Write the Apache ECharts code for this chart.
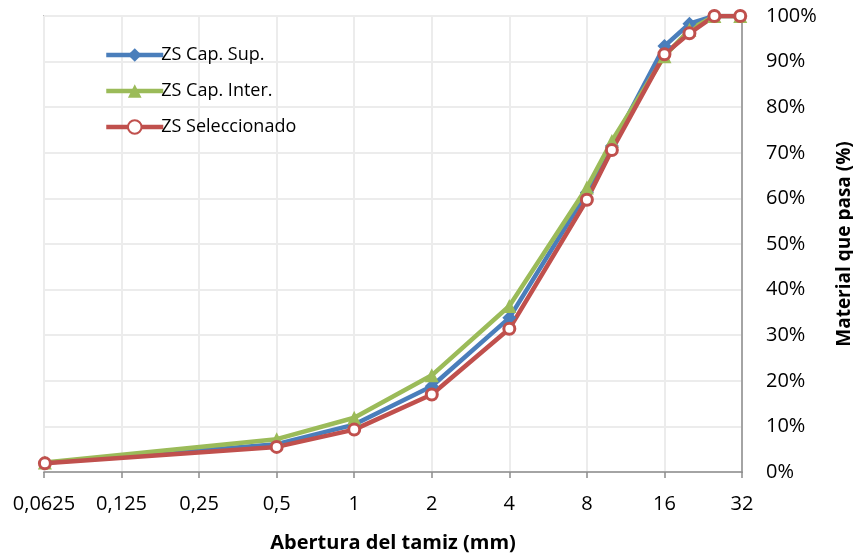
<!DOCTYPE html>
<html>
<head>
<meta charset="utf-8">
<script src="https://cdn.jsdelivr.net/npm/echarts@6/dist/echarts.min.js"></script>
<style>
html, body { margin: 0; padding: 0; background: #fff; }
#curvaChart { width: 853px; height: 553px; }
</style>
</head>
<body>
<div id="curvaChart"></div>
<script>
/* aberturas de tamiz (mm) */
var tamices = [0.063, 0.5, 1, 2, 4, 8, 10, 16, 20, 25, 31.5];

/* % que pasa por curva */
var capSup = [2.0, 6.1, 10.4, 18.8, 33.8, 61.3, 71.5, 93.4, 98.3, 100, 100];
var capInter = [2.1, 7.2, 11.9, 21.2, 36.4, 62.4, 72.6, 91.2, 97.0, 100, 100];
var seleccionado = [1.9, 5.5, 9.3, 17.0, 31.4, 59.7, 70.6, 91.6, 96.2, 100, 100];

/* etiquetas eje X */
var etiquetasX = ['0,0625', '0,125', '0,25', '0,5', '1', '2', '4', '8', '16', '32'];

var fuente = '"Open Sans", "Noto Sans", sans-serif';

function pares(valores) {
    var res = [];
    for (var i = 0; i < tamices.length; i++) {
        res.push([tamices[i], valores[i]]);
    }
    return res;
}

var curvaChart = echarts.init(document.getElementById('curvaChart'));
var option = {
    backgroundColor: '#fff',
    animation: false,
    grid: {
        left: 44,
        right: 111,
        top: 16,
        bottom: 81,
        outerBoundsMode: 'none',
        containLabel: false,
        show: true,
        borderColor: '#8c8c8c',
        borderWidth: 1.5
    },
    legend: {
        orient: 'vertical',
        left: 99,
        top: 41,
        itemWidth: 57,
        itemHeight: 17,
        itemGap: 18,
        lineStyle: { width: 4.5 },
        textStyle: { fontFamily: fuente, fontSize: 18, color: '#000', padding: [0, 0, 0, -7] },
        data: ['ZS Cap. Sup.', 'ZS Cap. Inter.', 'ZS Seleccionado']
    },
    xAxis: {
        type: 'log',
        logBase: 2,
        min: 0.0625,
        max: 32,
        name: 'Abertura del tamiz (mm)',
        nameLocation: 'middle',
        nameGap: 61,
        nameTextStyle: { fontFamily: fuente, fontSize: 20, fontWeight: 'bold', color: '#000' },
        axisLine: { lineStyle: { color: '#8c8c8c', width: 1.5 } },
        axisTick: { show: true, length: 6, lineStyle: { color: '#8c8c8c', width: 1.5 } },
        axisLabel: {
            margin: 22,
            fontFamily: fuente,
            fontSize: 20,
            color: '#000',
            formatter: function (v) {
                var idx = Math.round(Math.log(v) / Math.LN2) + 4;
                return etiquetasX[idx];
            }
        },
        splitLine: { show: true, lineStyle: { color: '#ececec', width: 2 } },
        minorTick: { show: false }
    },
    yAxis: {
        type: 'value',
        position: 'right',
        min: 0,
        max: 100,
        interval: 10,
        name: 'Material que pasa (%)',
        nameLocation: 'middle',
        nameRotate: 90,
        nameGap: 93,
        nameTextStyle: { fontFamily: fuente, fontSize: 19, fontWeight: 'bold', color: '#000' },
        axisLine: { show: true, lineStyle: { color: '#8c8c8c', width: 1.5 } },
        axisTick: { show: false },
        axisLabel: {
            margin: 24,
            fontFamily: fuente,
            fontSize: 20,
            color: '#000',
            formatter: '{value}%'
        },
        splitLine: { show: true, lineStyle: { color: '#ececec', width: 2 } }
    },
    series: [
        {
            name: 'ZS Cap. Sup.',
            type: 'line',
            data: pares(capSup),
            symbol: 'diamond',
            symbolSize: 14,
            lineStyle: { color: '#4a7ebb', width: 4.5 },
            itemStyle: { color: '#4a7ebb' }
        },
        {
            name: 'ZS Cap. Inter.',
            type: 'line',
            data: pares(capInter),
            symbol: 'triangle',
            symbolSize: 14,
            lineStyle: { color: '#9bbb59', width: 4.5 },
            itemStyle: { color: '#9bbb59' }
        },
        {
            name: 'ZS Seleccionado',
            type: 'line',
            data: pares(seleccionado),
            symbol: 'circle',
            symbolSize: 11,
            lineStyle: { color: '#c0504d', width: 4.5 },
            itemStyle: { color: '#ffffff', borderColor: '#c0504d', borderWidth: 3 }
        }
    ]
};
curvaChart.setOption(option, true);
</script>
</body>
</html>
